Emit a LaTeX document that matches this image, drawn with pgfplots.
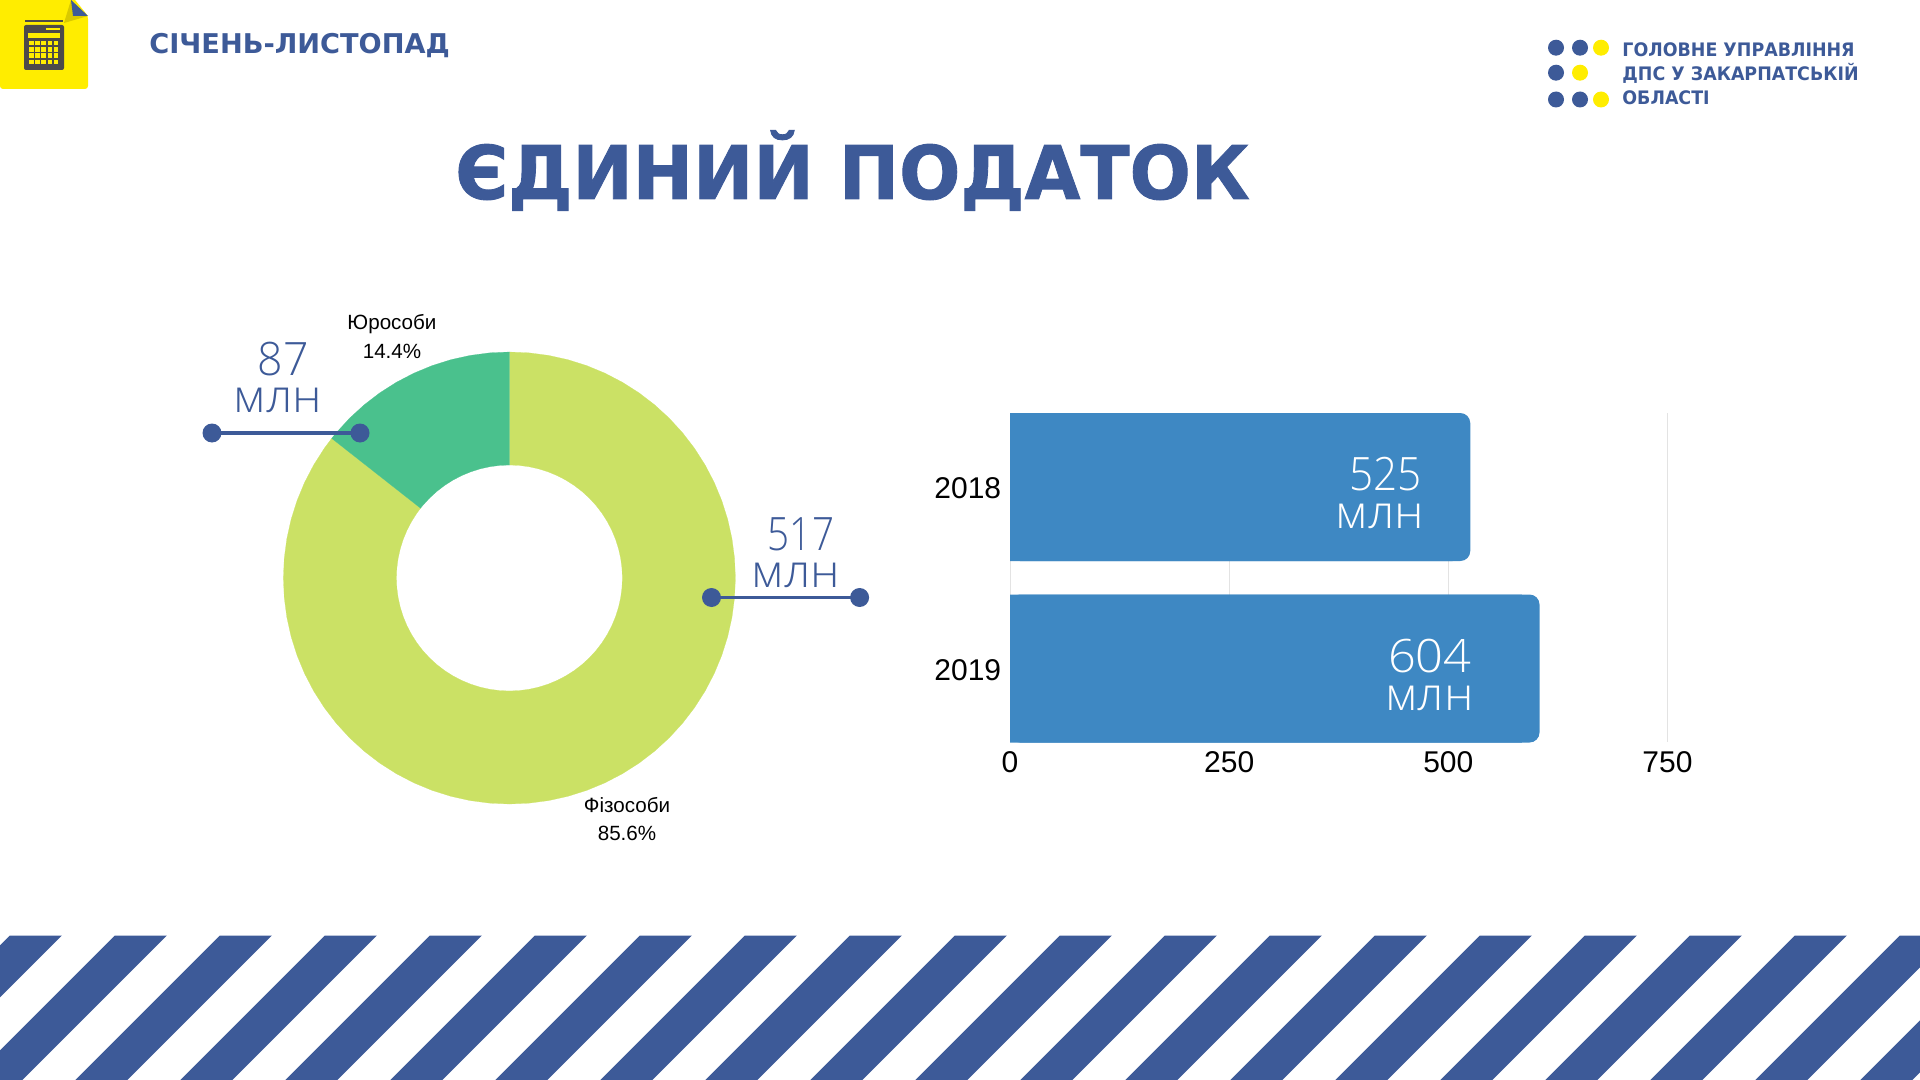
\documentclass[border=0pt]{standalone}
\usepackage{fontspec}
\setmainfont{Liberation Sans}
\newfontfamily\lightf[FakeStretch=1.05]{Open Sans Light}
\newfontfamily\lightn[FakeStretch=0.97]{Open Sans Light}
\newfontfamily\lightm[FakeStretch=0.84]{Open Sans Light}
\newfontfamily\lighta[FakeStretch=0.92]{Open Sans Light}
\newfontfamily\lightb[FakeStretch=1.06]{Open Sans Light}
\newfontfamily\boldf{DejaVu Sans Bold}
\newfontfamily\boldt[FakeStretch=0.974,FakeBold=1.2]{DejaVu Sans Bold}
\newfontfamily\boldl[FakeStretch=0.937]{DejaVu Sans Bold}
\usepackage{pgfplots}
\usepackage{pgfplotstable}
\pgfplotsset{compat=1.18}
\definecolor{navy}{HTML}{3D5A98}
\definecolor{barblue}{HTML}{3E88C3}
\definecolor{lime}{HTML}{CBE165}
\definecolor{teal2}{HTML}{4AC18D}
\definecolor{yel}{HTML}{FFED00}
\definecolor{calc}{HTML}{4D4A4A}
\pgfplotstableread{
pos v
0 525
1 604
}\bars
\begin{document}
\begin{tikzpicture}[x=0.5pt,y=-0.5pt]
\useasboundingbox (0,0) rectangle (1920,1080);
% stripes
\begin{scope}
\clip (0,935.5) rectangle (1920,1080);
\foreach \k in {0,...,19}{
 \pgfmathsetmacro{\a}{9.9+105*\k}
 \fill[navy] (\a,935.5) -- (\a+52,935.5) -- (\a+52-144.5,1080) -- (\a-144.5,1080) -- cycle;
}
\end{scope}
% icon
\fill[yel,rounded corners=1.5pt] (0,-5) -- (71,-5) -- (88,16) -- (88,89) -- (0,89) -- cycle;
\fill[yel!85!black] (71,0) -- (88,16) -- (64,23) -- cycle;
\fill[navy] (71,0) -- (88,16) -- (73,16) -- cycle;
\fill[calc,rounded corners=1pt] (24,25) rectangle (64,70);
\fill[calc] (25,20) rectangle (63,22.5);
\fill[yel] (28,33) rectangle (60,38);
\fill[yel] (46,28) rectangle (60,30.5);
\foreach \i in {0,1,2,3,4}{\foreach \j in {0,1,2,3}{
 \fill[yel] (29+\i*6.2,41+\j*6.2) rectangle (33.5+\i*6.2,45.5+\j*6.2);}}
% header
\node[anchor=base west,inner sep=0,text=navy] at (149,54) {\fontsize{13.6}{16}\boldf СІЧЕНЬ-ЛИСТОПАД};
\node[anchor=base,inner sep=0,text=navy] at (852.5,199) {\fontsize{37}{44}\boldt ЄДИНИЙ ПОДАТОК};
\foreach \p/\c in {1556/navy,1580/navy,1601/yel}{\fill[\c] (\p,47.7) circle[radius=8];}
\foreach \p/\c in {1556/navy,1580/yel}{\fill[\c] (\p,72.7) circle[radius=8];}
\foreach \p/\c in {1556/navy,1580/navy,1601/yel}{\fill[\c] (\p,99.5) circle[radius=8];}
\node[anchor=base west,inner sep=0,text=navy] at (1622,57) {\fontsize{9.3}{11}\boldl ГОЛОВНЕ УПРАВЛІННЯ};
\node[anchor=base west,inner sep=0,text=navy] at (1622,81) {\fontsize{9.3}{11}\boldl ДПС У ЗАКАРПАТСЬКІЙ};
\node[anchor=base west,inner sep=0,text=navy] at (1622,105) {\fontsize{9.3}{11}\boldl ОБЛАСТІ};
% donut
\begin{axis}[at={(254.7pt,-289pt)},anchor=center,scale only axis,width=240pt,height=240pt,
 xmin=-240,xmax=240,ymin=-240,ymax=240,hide axis,clip=false]
\addplot[data cs=polar,fill=lime,draw=lime,line width=0.1pt] coordinates {
(141.84,226)(145,226)(150,226)(155,226)(160,226)(165,226)(170,226)(175,226)(180,226)(185,226)(190,226)(195,226)(200,226)(205,226)(210,226)(215,226)(220,226)(225,226)(230,226)(235,226)(240,226)(245,226)(250,226)(255,226)(260,226)(265,226)(270,226)(275,226)(280,226)(285,226)(290,226)(295,226)(300,226)(305,226)(310,226)(315,226)(320,226)(325,226)(330,226)(335,226)(340,226)(345,226)(350,226)(355,226)(360,226)(365,226)(370,226)(375,226)(380,226)(385,226)(390,226)(395,226)(400,226)(405,226)(410,226)(415,226)(420,226)(425,226)(430,226)(435,226)(440,226)(445,226)(450,226)
(450,113)(445,113)(440,113)(435,113)(430,113)(425,113)(420,113)(415,113)(410,113)(405,113)(400,113)(395,113)(390,113)(385,113)(380,113)(375,113)(370,113)(365,113)(360,113)(355,113)(350,113)(345,113)(340,113)(335,113)(330,113)(325,113)(320,113)(315,113)(310,113)(305,113)(300,113)(295,113)(290,113)(285,113)(280,113)(275,113)(270,113)(265,113)(260,113)(255,113)(250,113)(245,113)(240,113)(235,113)(230,113)(225,113)(220,113)(215,113)(210,113)(205,113)(200,113)(195,113)(190,113)(185,113)(180,113)(175,113)(170,113)(165,113)(160,113)(155,113)(150,113)(145,113)(141.84,113)
} -- cycle;
\addplot[data cs=polar,fill=teal2,draw=teal2,line width=0.1pt] coordinates {
(90,226)(95,226)(100,226)(105,226)(110,226)(115,226)(120,226)(125,226)(130,226)(135,226)(140,226)(141.84,226)
(141.84,113)(140,113)(135,113)(130,113)(125,113)(120,113)(115,113)(110,113)(105,113)(100,113)(95,113)(90,113)
} -- cycle;
\end{axis}
% bars
\begin{axis}[at={(505pt,-371pt)},anchor=south west,scale only axis,width=328.75pt,height=164.5pt,
 xmin=0,xmax=750,ymin=-0.408,ymax=1.405,y dir=reverse,
 axis line style={draw=none},major tick length=0pt,
 xtick={0,250,500,750},ytick={0,1},yticklabels={2018,2019},
 xmajorgrids,grid style={color=black!11,line width=0.5pt},
 tick label style={font=\fontsize{15}{18}\selectfont},
 /pgf/number format/assume math mode=true,
 xticklabel style={yshift=-1.3pt},yticklabel style={xshift=-0.9pt,yshift=-0.6pt}]
\addplot[xbar,bar shift=0pt,bar width=74pt,fill=barblue,draw=none,rounded corners=5pt] table[x=v,y=pos]{\bars};
\addplot[xbar,bar shift=0pt,bar width=74pt,fill=barblue,draw=none] table[x expr=\thisrow{v}-20,y=pos]{\bars};
\end{axis}
% bar labels
\node[anchor=base east,inner sep=0,text=white] at (1422,490) {\fontsize{23}{26}\lighta 525};
\node[anchor=base east,inner sep=0,text=white] at (1424.5,528) {\fontsize{23}{26}\lightf млн};
\node[anchor=base east,inner sep=0,text=white] at (1472,672.5) {\fontsize{23}{26}\lightb 604};
\node[anchor=base east,inner sep=0,text=white] at (1474,710) {\fontsize{23}{26}\lightf млн};
% callouts
\draw[navy,line width=1.65pt] (212,433) -- (360,433);
\fill[navy] (212,433) circle[radius=9.5] (360,433) circle[radius=9.5];
\draw[navy,line width=1.65pt] (711.5,597.5) -- (859.6,597.5);
\fill[navy] (711.5,597.5) circle[radius=9.5] (859.6,597.5) circle[radius=9.5];
\node[anchor=base,inner sep=0,text=navy] at (283,375) {\fontsize{23}{26}\lightn 87};
\node[anchor=base,inner sep=0,text=navy] at (278,412) {\fontsize{23}{26}\lightf млн};
\node[anchor=base,inner sep=0,text=navy] at (801,550) {\fontsize{23}{26}\lightm 517};
\node[anchor=base,inner sep=0,text=navy] at (796,587) {\fontsize{23}{26}\lightf млн};
\node[anchor=base,inner sep=0] at (392,329) {\fontsize{10.3}{13}\selectfont Юрособи};
\node[anchor=base,inner sep=0] at (392,358) {\fontsize{10.3}{13}\selectfont 14.4\%};
\node[anchor=base,inner sep=0] at (627,812) {\fontsize{10.3}{13}\selectfont Фізособи};
\node[anchor=base,inner sep=0] at (627,840) {\fontsize{10.3}{13}\selectfont 85.6\%};
\end{tikzpicture}
\end{document}
